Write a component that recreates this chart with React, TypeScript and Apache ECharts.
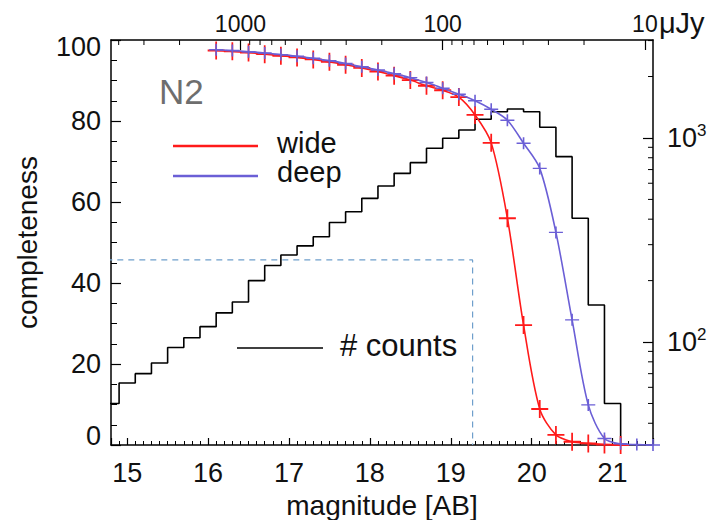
import React, { useEffect, useRef } from "react";
import * as echarts from "echarts";

// ---- axis ranges ----
const magRange = [14.8, 21.5];
const countRange = [31.3, 3020];
const completenessRange = [0, 100];

// ---- completeness curves ----
const sampleMags = [16.1, 16.3, 16.5, 16.7, 16.9, 17.1, 17.3, 17.5, 17.7, 17.9, 18.1, 18.3, 18.5, 18.7, 18.9, 19.1, 19.3, 19.5, 19.7, 19.9, 20.1, 20.3, 20.5, 20.7, 20.9, 21.1, 21.3, 21.5];
const deepCompleteness = [97.6, 97.4, 97.1, 96.8, 96.4, 96.0, 95.5, 94.9, 94.2, 93.4, 92.6, 91.7, 90.7, 89.5, 88.1, 86.6, 85.0, 82.9, 80.2, 74.5, 68.3, 52.5, 30.9, 9.9, 1.6, 0.3, 0.1, 0.0];
const wideCompleteness = [97.4, 97.2, 96.9, 96.5, 96.1, 95.7, 95.2, 94.6, 93.9, 93.1, 92.2, 91.2, 90.1, 88.7, 87.6, 85.9, 81.5, 74.6, 56.0, 29.6, 8.9, 2.5, 0.8, 0.4, 0.1, 0.0];

// ---- source counts histogram (left bin edges, counts) ----
const binEdges = [14.7, 14.9, 15.1, 15.3, 15.5, 15.7, 15.9, 16.1, 16.3, 16.5, 16.7, 16.9, 17.1, 17.3, 17.5, 17.7, 17.9, 18.1, 18.3, 18.5, 18.7, 18.9, 19.1, 19.3, 19.5, 19.7, 19.9, 20.1, 20.3, 20.5, 20.7, 20.9, 21.1];
const binCounts = [50, 63, 70, 79, 94, 105, 119, 139, 157, 200, 237, 267, 296, 328, 385, 435, 506, 582, 671, 757, 891, 997, 1094, 1235, 1345, 1387, 1345, 1128, 810, 404, 152, 50, 20];

// ---- dashed guide ----
const guideMags = [14.47, 19.27, 19.27];
const guideValues = [45.7, 45.7, 0];

// ---- top-axis flux ticks (μJy) ----
const fluxMajor = [10, 100, 1000];
const fluxMinor = [20, 30, 40, 50, 60, 70, 80, 90, 200, 300, 400, 500, 600, 700, 800, 900, 2000, 3000, 4000];
const countMinor = [40, 50, 60, 70, 80, 90, 200, 300, 400, 500, 600, 700, 800, 900, 2000, 3000];

const fluxOf = (m: number) => Math.pow(10, (23.9 - m) / 2.5);

const FONT = "'Liberation Sans', Arial, Helvetica, sans-serif";
const RED = "#ff1a1a";
const BLUE = "#6b5fd6";
const GRID = { left: 111, right: 54, top: 40, bottom: 75 };
const W = 707;
const H = 520;

export default function App() {
  const ref = useRef<HTMLDivElement>(null);

  useEffect(() => {
    const chart = echarts.init(ref.current!, null, { renderer: "svg" });
    const crossPath = "path://M10,0V20M0,10H20";

    const option: any = {
      animation: false,
      backgroundColor: "#fff",
      textStyle: { fontFamily: FONT },
      grid: { ...GRID, containLabel: false, outerBoundsMode: "none" },
      xAxis: [
        {
          type: "value",
          min: magRange[0],
          max: magRange[1],
          position: "bottom",
          splitNumber: 7,
          minInterval: 1,
          maxInterval: 1,
          name: "magnitude [AB]",
          nameLocation: "middle",
          nameGap: 46,
          nameTextStyle: { fontSize: 28, color: "#111", fontFamily: FONT },
          axisLine: { show: true, onZero: false, lineStyle: { color: "#000", width: 1.5 } },
          axisTick: { show: true, inside: true, length: 7, lineStyle: { color: "#000", width: 1.2 } },
          minorTick: { show: true, splitNumber: 10, length: 4, lineStyle: { color: "#000", width: 1 } },
          axisLabel: { fontSize: 27, color: "#111", margin: 14, showMinLabel: false, showMaxLabel: false, fontFamily: FONT },
          splitLine: { show: false },
        },
        {
          type: "log",
          inverse: true,
          min: fluxOf(magRange[1]),
          max: fluxOf(magRange[0]),
          position: "top",
          axisLine: { show: true, onZero: false, lineStyle: { color: "#000", width: 1.5 } },
          axisTick: { show: true, inside: true, length: 10, lineStyle: { color: "#000", width: 1.2 } },
          axisLabel: {
            fontSize: 23,
            color: "#111",
            margin: 5,
            showMinLabel: false,
            showMaxLabel: false,
            fontFamily: FONT,
            formatter: (v: number) => {
              for (const f of fluxMajor) if (Math.abs(v - f) / f < 0.01) return String(f);
              return "";
            },
          },
          splitLine: { show: false },
          minorTick: { show: false },
        },
      ],
      yAxis: [
        {
          type: "value",
          min: completenessRange[0],
          max: completenessRange[1],
          interval: 20,
          position: "left",
          name: "completeness",
          nameLocation: "middle",
          nameGap: 70,
          nameTextStyle: { fontSize: 28, color: "#111", fontFamily: FONT },
          axisLine: { show: true, onZero: false, lineStyle: { color: "#000", width: 1.5 } },
          axisTick: { show: true, inside: true, length: 10, lineStyle: { color: "#000", width: 1.2 } },
          minorTick: { show: true, splitNumber: 4, length: 6, lineStyle: { color: "#000", width: 1 } },
          axisLabel: {
            fontSize: 27,
            color: "#111",
            margin: 10,
            fontFamily: FONT,
            formatter: (v: number) => (v === completenessRange[1] ? `{t|${v}}` : v === completenessRange[0] ? `{b|${v}}` : String(v)),
            rich: {
              t: { fontSize: 27, color: "#111", fontFamily: FONT, padding: [14, 0, 0, 0] },
              b: { fontSize: 27, color: "#111", fontFamily: FONT, padding: [0, 0, 18, 0] },
            },
          },
          splitLine: { show: false },
        },
        {
          type: "log",
          min: countRange[0],
          max: countRange[1],
          position: "right",
          axisLine: { show: true, onZero: false, lineStyle: { color: "#000", width: 1.5 } },
          axisTick: { show: true, inside: true, length: 10, lineStyle: { color: "#000", width: 1.2 } },
          axisLabel: {
            fontSize: 27,
            color: "#111",
            margin: 14,
            showMinLabel: false,
            showMaxLabel: false,
            fontFamily: FONT,
            formatter: (v: number) => {
              if (Math.abs(v - 100) < 1) return "{b|10}{s|2}";
              if (Math.abs(v - 1000) < 5) return "{b|10}{s|3}";
              return "";
            },
            rich: {
              b: { fontSize: 27, lineHeight: 32, color: "#111", fontFamily: FONT },
              s: { fontSize: 17, lineHeight: 17, verticalAlign: "top", color: "#111", fontFamily: FONT },
            },
          },
          splitLine: { show: false },
          minorTick: { show: false },
        },
      ],
      series: [
        {
          name: "# counts",
          type: "line",
          xAxisIndex: 0,
          yAxisIndex: 1,
          step: "end",
          symbol: "none",
          lineStyle: { color: "#000", width: 1.6 },
          data: binEdges.map((m, i) => [m, binCounts[i]]),
          z: 2,
        },
        {
          name: "guide",
          type: "line",
          xAxisIndex: 0,
          yAxisIndex: 0,
          symbol: "none",
          clip: false,
          lineStyle: { color: "#6f9fcc", width: 1.2, type: [6, 5] },
          data: guideMags.map((m, i) => [m, guideValues[i]]),
          z: 2,
        },
        {
          name: "wide",
          type: "line",
          xAxisIndex: 0,
          yAxisIndex: 0,
          smooth: 0.3,
          symbol: crossPath,
          symbolSize: [17, 18],
          itemStyle: { color: "none", borderColor: RED, borderWidth: 1.8 },
          lineStyle: { color: RED, width: 1.6 },
          data: sampleMags.slice(0, wideCompleteness.length).map((m, i) => [m, wideCompleteness[i]]),
          z: 3,
        },
        {
          name: "deep",
          type: "line",
          xAxisIndex: 0,
          yAxisIndex: 0,
          smooth: 0.3,
          symbol: crossPath,
          symbolSize: [14, 12],
          itemStyle: { color: "none", borderColor: BLUE, borderWidth: 1.5 },
          lineStyle: { color: BLUE, width: 1.6 },
          data: sampleMags.map((m, i) => [m, deepCompleteness[i]]),
          z: 4,
        },
      ],
    };
    chart.setOption(option);

    const top = GRID.top;
    const rightX = W - GRID.right;
    const ticks: any[] = [];
    fluxMinor.forEach((f) => {
      const x = chart.convertToPixel({ xAxisIndex: 1 }, f) as number;
      if (x > GRID.left && x < rightX) {
        ticks.push({ type: "line", silent: true, shape: { x1: x, y1: top, x2: x, y2: top + 5 }, style: { stroke: "#000", lineWidth: 1 } });
      }
    });
    countMinor.forEach((c) => {
      const y = chart.convertToPixel({ yAxisIndex: 1 }, c) as number;
      if (y > top && y < H - GRID.bottom) {
        ticks.push({ type: "line", silent: true, shape: { x1: rightX - 5, y1: y, x2: rightX, y2: y }, style: { stroke: "#000", lineWidth: 1 } });
      }
    });
    const tenX = chart.convertToPixel({ xAxisIndex: 1 }, 10) as number;

    const legend: any[] = [
      { type: "text", style: { text: "N2", x: 159, y: 91, fontSize: 35, fill: "#6e6e6e", fontFamily: FONT, verticalAlign: "middle" } },
      { type: "line", shape: { x1: 173, y1: 146, x2: 258, y2: 146 }, style: { stroke: RED, lineWidth: 2.5 } },
      { type: "text", style: { text: "wide", x: 277, y: 143, fontSize: 29, fill: "#111", fontFamily: FONT, verticalAlign: "middle" } },
      { type: "line", shape: { x1: 173, y1: 176, x2: 258, y2: 176 }, style: { stroke: BLUE, lineWidth: 2.5 } },
      { type: "text", style: { text: "deep", x: 277, y: 172, fontSize: 29, fill: "#111", fontFamily: FONT, verticalAlign: "middle" } },
      { type: "line", shape: { x1: 237, y1: 348, x2: 323, y2: 348 }, style: { stroke: "#000", lineWidth: 1.6 } },
      { type: "text", style: { text: "# counts", x: 340, y: 345, fontSize: 31, fill: "#111", fontFamily: FONT, verticalAlign: "middle" } },
      { type: "text", style: { text: "μJy", x: tenX + 14, y: 23, fontSize: 29, fill: "#111", fontFamily: FONT, verticalAlign: "middle" } },
    ];
    chart.setOption({ graphic: [...ticks, ...legend] });

    return () => chart.dispose();
  }, []);

  return <div ref={ref} style={{ position: "fixed", left: 0, top: 0, width: W, height: H }} />;
}
